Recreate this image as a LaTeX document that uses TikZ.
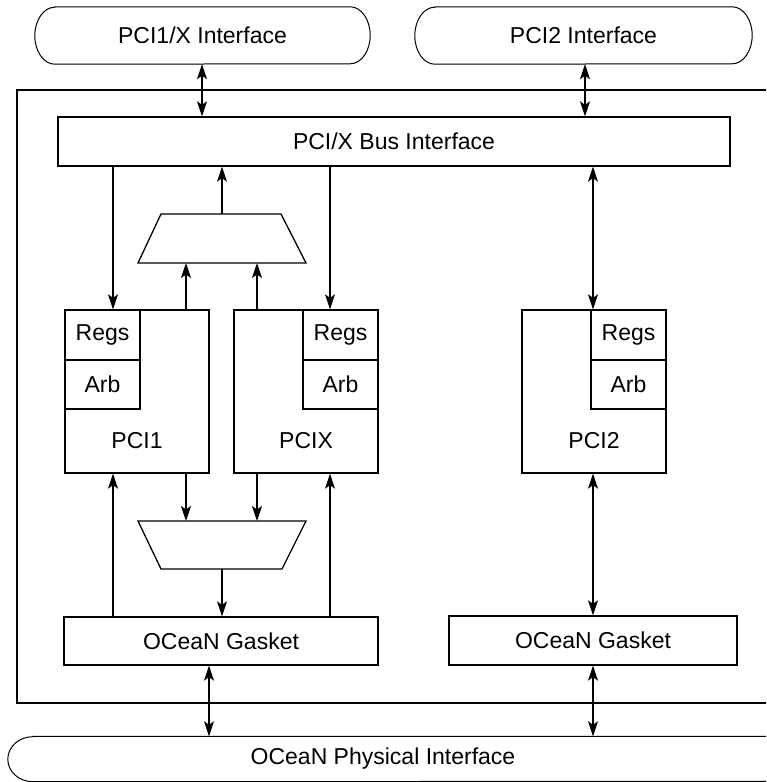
\documentclass[tikz,border=0pt]{standalone}
\usepackage{fontspec}
\setmainfont{Liberation Sans}
\usetikzlibrary{arrows.meta}
\begin{document}
\begin{tikzpicture}[x=1pt,y=-1pt,
  every node/.style={font=\fontsize{23}{27}\selectfont, inner sep=0pt},
  box/.style={draw, line width=1.3pt, rectangle},
  pill/.style={rectangle},
  pillline/.style={line width=1pt},
  ln/.style={line width=1.3pt},
  tip/.style={Stealth[length=15pt,width=10pt,inset=3.5pt]},
  arr/.style={ln, -{Stealth[length=15pt,width=10pt,inset=3.5pt]}},
  darr/.style={ln, {Stealth[length=15pt,width=10pt,inset=3.5pt]}-{Stealth[length=15pt,width=10pt,inset=3.5pt]}},
  txt/.style={draw=none}]
\useasboundingbox (0,0) rectangle (766,782);
\clip (0,0) rectangle (766,782);
\fill[white] (0,0) rectangle (766,782);

% column coordinates
\coordinate (xa) at (113,0);
\coordinate (xb) at (186,0);
\coordinate (xc) at (222,0);
\coordinate (xd) at (257,0);
\coordinate (xe) at (330,0);
\coordinate (xf) at (593,0);
\coordinate (xg) at (202,0);
\coordinate (xh) at (585,0);
\coordinate (xi) at (209,0);

% outer interfaces
\node[pill, minimum width=335, minimum height=57] (ifx) at (202.5,35.5) {PCI1/X Interface};
\node[pill, minimum width=337, minimum height=57] (if2) at (583.5,35.5) {PCI2 Interface};
\node[pill, minimum width=786, minimum height=45] (phy) at (401,759) {};
\node[txt] (phytxt) at (383,759) {OCeaN Physical Interface};
\foreach \n/\rx/\ry in {ifx/20/28.5, if2/20/28.5, phy/25/22.5}{
  \draw[pillline] ([xshift=\rx pt]\n.north west) -- ([xshift=-\rx pt]\n.north east)
    arc[start angle=-90, end angle=90, x radius=\rx, y radius=\ry]
    -- ([xshift=\rx pt]\n.south west)
    arc[start angle=90, end angle=270, x radius=\rx, y radius=\ry] -- cycle;
}

% outer box (right side beyond the picture)
\draw[ln] (790,90) -- (17,90) -- (17,703) -- (790,703);

% bus interface
\node[box, minimum width=672, minimum height=49] (bus) at (394,141.5) {PCI/X Bus Interface};

% PCI1
\node[box, minimum width=144, minimum height=163] (pci1) at (137,391.5) {};
\node[box, minimum width=75, minimum height=50] (regs1) at (102.5,335) {Regs};
\node[box, minimum width=75, minimum height=49] (arb1) at (102.5,384.5) {Arb};
\node[txt] (pci1t) at (137,441) {PCI1};

% PCIX
\node[box, minimum width=144, minimum height=163] (pcix) at (306,391.5) {};
\node[box, minimum width=75, minimum height=50] (regsx) at (340.5,335) {Regs};
\node[box, minimum width=75, minimum height=49] (arbx) at (340.5,384.5) {Arb};
\node[txt] (pcixt) at (306,441) {PCIX};

% PCI2
\node[box, minimum width=144, minimum height=163] (pci2) at (594,391.5) {};
\node[box, minimum width=75, minimum height=50] (regs2) at (628.5,335) {Regs};
\node[box, minimum width=75, minimum height=49] (arb2) at (628.5,384.5) {Arb};
\node[txt] (pci2t) at (594,441) {PCI2};

% gaskets
\node[box, minimum width=314, minimum height=48] (gk1) at (221,641) {OCeaN Gasket};
\node[box, minimum width=288, minimum height=49] (gk2) at (593,640.5) {OCeaN Gasket};

% multiplexers
\draw[ln] (161,214) -- (281,214) -- (306,263) -- (138,263) -- cycle;
\coordinate (muxT) at (222,214);
\coordinate (muxB) at (222,263);
\draw[ln] (138,521) -- (306,521) -- (282,569) -- (161,569) -- cycle;
\coordinate (demT) at (222,521);
\coordinate (demB) at (222,569);

% connectors
\draw[darr] (ifx.south -| xg) -- (bus.north -| xg);
\draw[darr] (if2.south -| xh) -- (bus.north -| xh);
\draw[arr] (bus.south -| xa) -- (pci1.north -| xa);
\draw[arr] (bus.south -| xe) -- (pcix.north -| xe);
\draw[arr] (muxT) -- (bus.south -| xc);
\draw[arr] (pci1.north -| xb) -- (muxB -| xb);
\draw[arr] (pcix.north -| xd) -- (muxB -| xd);
\draw[darr] (bus.south -| xf) -- (pci2.north -| xf);
\draw[arr] (pci1.south -| xb) -- (demT -| xb);
\draw[arr] (pcix.south -| xd) -- (demT -| xd);
\draw[arr] (demB) -- (gk1.north -| xc);
\draw[arr] (gk1.north -| xa) -- (pci1.south -| xa);
\draw[arr] (gk1.north -| xe) -- (pcix.south -| xe);
\draw[darr] (pci2.south -| xf) -- (gk2.north -| xf);
\draw[darr] (gk1.south -| xi) -- (phy.north -| xi);
\draw[darr] (gk2.south -| xf) -- (phy.north -| xf);
\end{tikzpicture}
\end{document}
